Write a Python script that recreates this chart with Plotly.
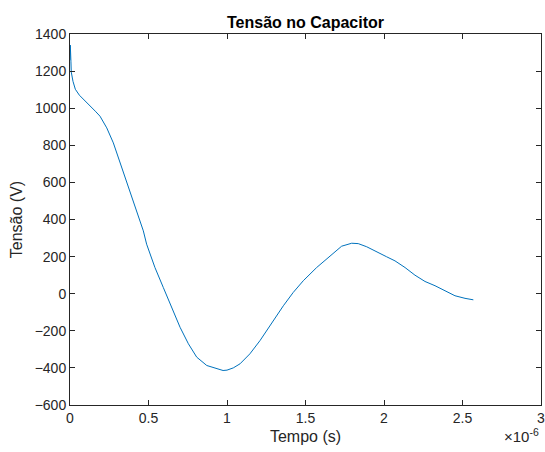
import plotly.graph_objects as go

# time in microseconds (scaled by 1e-6 below), voltage in V
t_us = [0.0, 0.002, 0.006, 0.008, 0.019, 0.034, 0.06, 0.097, 0.13, 0.161, 0.191, 0.234, 0.276,
        0.308, 0.340, 0.371, 0.403, 0.435, 0.467, 0.488, 0.541, 0.594, 0.648, 0.701,
        0.754, 0.807, 0.871, 0.934, 0.975, 1.0, 1.040, 1.083, 1.146, 1.210, 1.295, 1.359,
        1.422, 1.486, 1.571, 1.656, 1.730, 1.794, 1.836, 1.890, 1.953, 2.017,
        2.070, 2.134, 2.197, 2.261, 2.325, 2.389, 2.452, 2.516, 2.569]
v = [1260, 1340, 1250, 1195, 1145, 1102, 1070, 1040, 1010, 984, 957, 894, 813,
     733, 652, 571, 500, 419, 339, 267, 141, 34, -74, -181,
     -270, -342, -387, -405, -414, -412, -400, -378, -324, -253, -145, -65,
     7, 70, 141, 204, 256, 272, 270, 253, 228, 199,
     177, 141, 100, 66, 43, 16, -11, -25, -33]

x_ticks = [0, 0.5, 1, 1.5, 2, 2.5, 3]
x_tick_labels = ["0", "0.5", "1", "1.5", "2", "2.5", "3"]
y_ticks = [-600, -400, -200, 0, 200, 400, 600, 800, 1000, 1200, 1400]

t = [x * 1e-6 for x in t_us]

fig = go.Figure()
fig.add_trace(go.Scatter(x=t, y=v, mode="lines",
                         line=dict(color="#0072BD", width=1), showlegend=False))

axcol = "#262626"
font = "Liberation Sans, Arial, sans-serif"
fig.update_layout(
    width=545, height=452,
    margin=dict(l=70, r=4, t=34, b=47, autoexpand=False),
    paper_bgcolor="white", plot_bgcolor="white",
    font=dict(family=font, color=axcol, size=14),
    title=dict(text="<b>Tensão no Capacitor</b>", xref="paper", x=0.5, xanchor="center",
               y=1 - 22 / 452, yanchor="middle", font=dict(size=16, color="black")),
    xaxis=dict(range=[0, 3e-6], tickvals=[x * 1e-6 for x in x_ticks], ticktext=x_tick_labels,
               showgrid=False, zeroline=False, showline=True, linecolor=axcol, linewidth=1,
               mirror="ticks", ticks="inside", ticklen=5, tickcolor=axcol, automargin=False,
               ticklabeloverflow="allow",
               title=dict(text="Tempo (s)", font=dict(size=16), standoff=6)),
    yaxis=dict(range=[-600, 1400], tickvals=y_ticks, automargin=False,
               ticklabeloverflow="allow",
               showgrid=False, zeroline=False, showline=True, linecolor=axcol, linewidth=1,
               mirror="ticks", ticks="inside", ticklen=5, tickcolor=axcol,
               title=dict(text="Tensão (V)", font=dict(size=16), standoff=8)),
    annotations=[dict(text="×10<sup>-6</sup>", xref="paper", yref="paper",
                      x=1.0, y=-0.05, xanchor="right", yanchor="top", showarrow=False,
                      font=dict(size=15, color=axcol))],
)

fig.write_html("out.html")
